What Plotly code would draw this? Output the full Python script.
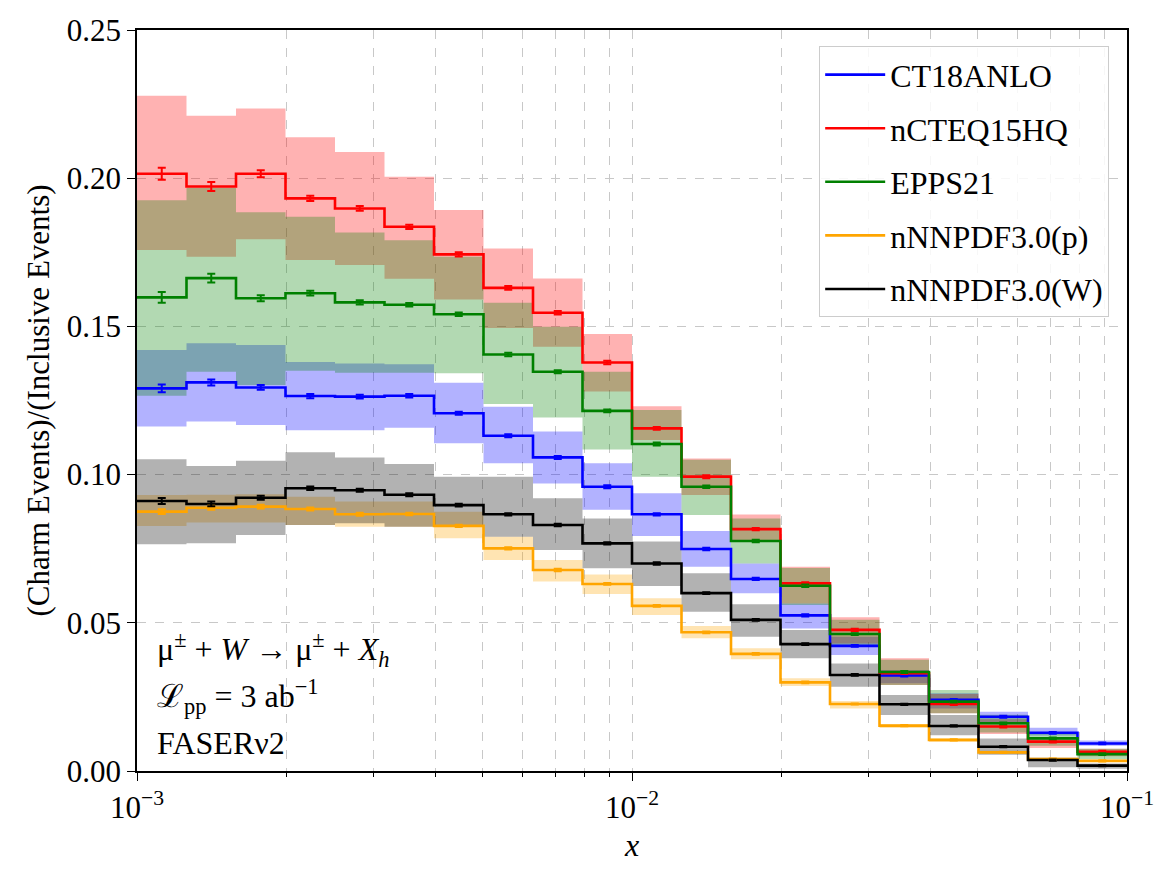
import numpy as np
import plotly.graph_objects as go

# bin edges: 10 log bins per decade from 1e-3 to 1e-1
edges = [10 ** (-3 + k / 10) for k in range(21)]

series_names = ["CT18ANLO", "nCTEQ15HQ", "EPPS21", "nNNPDF3.0(p)", "nNNPDF3.0(W)"]
series_colors = ["#0000ff", "#ff0000", "#008000", "#ffa500", "#000000"]
band_colors = ["rgba(0,0,255,0.3)", "rgba(255,0,0,0.3)", "rgba(0,128,0,0.3)",
               "rgba(255,165,0,0.3)", "rgba(0,0,0,0.3)"]

ct18_c = [0.1291, 0.1311, 0.1294, 0.1265, 0.1263, 0.1266, 0.1207, 0.1131, 0.1058, 0.0959,
          0.0866, 0.0749, 0.0648, 0.0525, 0.0422, 0.0322, 0.0240, 0.0183, 0.0129, 0.0093]
ct18_hi = [0.1420, 0.1443, 0.1437, 0.1380, 0.1375, 0.1372, 0.1310, 0.1229, 0.1145, 0.1038,
           0.0937, 0.0810, 0.0700, 0.0565, 0.0453, 0.0341, 0.0262, 0.0200, 0.0146, 0.0103]
ct18_lo = [0.1162, 0.1179, 0.1167, 0.1150, 0.1150, 0.1158, 0.1106, 0.1038, 0.0970, 0.0881,
           0.0793, 0.0689, 0.0600, 0.0481, 0.0391, 0.0296, 0.0211, 0.0160, 0.0120, 0.0085]
ct18_err = [0.0013, 0.0010, 0.0008, 0.0007, 0.0006, 0.0006, 0.0005, 0.0005, 0.0005, 0.0005,
            0.0004, 0.0004, 0.0004, 0.0004, 0.0003, 0.0003, 0.0003, 0.0003, 0.0003, 0.0003]

ncteq_c = [0.2015, 0.1972, 0.2015, 0.1932, 0.1898, 0.1836, 0.1743, 0.1630, 0.1546, 0.1378,
           0.1156, 0.0993, 0.0816, 0.0633, 0.0476, 0.0330, 0.0226, 0.0150, 0.0099, 0.0065]
ncteq_hi = [0.2278, 0.2211, 0.2235, 0.2138, 0.2088, 0.2005, 0.1893, 0.1763, 0.1662, 0.1474,
            0.1231, 0.1054, 0.0865, 0.0689, 0.0519, 0.0380, 0.0260, 0.0175, 0.0112, 0.0075]
ncteq_lo = [0.1758, 0.1735, 0.1794, 0.1724, 0.1707, 0.1661, 0.1591, 0.1495, 0.1431, 0.1280,
            0.1117, 0.0931, 0.0779, 0.0565, 0.0430, 0.0290, 0.0195, 0.0125, 0.0078, 0.0050]
ncteq_err = [0.0020, 0.0015, 0.0012, 0.0009, 0.0008, 0.0007, 0.0007, 0.0006, 0.0006, 0.0006,
             0.0005, 0.0005, 0.0004, 0.0004, 0.0004, 0.0003, 0.0003, 0.0003, 0.0003, 0.0003]

epps_c = [0.1598, 0.1663, 0.1595, 0.1612, 0.1581, 0.1573, 0.1541, 0.1405, 0.1347, 0.1215,
          0.1103, 0.0959, 0.0776, 0.0625, 0.0462, 0.0334, 0.0234, 0.0161, 0.0110, 0.0057]
epps_hi = [0.1926, 0.1968, 0.1885, 0.1870, 0.1817, 0.1791, 0.1735, 0.1580, 0.1499, 0.1347,
           0.1218, 0.1050, 0.0852, 0.0685, 0.0510, 0.0375, 0.0273, 0.0190, 0.0130, 0.0075]
epps_lo = [0.1266, 0.1347, 0.1302, 0.1350, 0.1344, 0.1344, 0.1342, 0.1238, 0.1193, 0.1085,
           0.0993, 0.0864, 0.0700, 0.0560, 0.0420, 0.0290, 0.0195, 0.0130, 0.0085, 0.0040]
epps_err = [0.0018, 0.0015, 0.0010, 0.0008, 0.0007, 0.0006, 0.0006, 0.0006, 0.0005, 0.0005,
            0.0005, 0.0004, 0.0004, 0.0004, 0.0003, 0.0003, 0.0003, 0.0003, 0.0003, 0.0003]

nnpdfp_c = [0.0875, 0.0888, 0.0892, 0.0884, 0.0866, 0.0867, 0.0827, 0.0751, 0.0678, 0.0631,
            0.0557, 0.0468, 0.0395, 0.0299, 0.0226, 0.0153, 0.0105, 0.0063, 0.0040, 0.0034]
nnpdfp_hi = [0.0931, 0.0932, 0.0934, 0.0925, 0.0909, 0.0909, 0.0875, 0.0790, 0.0712, 0.0663,
             0.0583, 0.0489, 0.0414, 0.0313, 0.0236, 0.0158, 0.0110, 0.0068, 0.0045, 0.0038]
nnpdfp_lo = [0.0827, 0.0838, 0.0838, 0.0830, 0.0824, 0.0824, 0.0785, 0.0712, 0.0639, 0.0597,
             0.0526, 0.0448, 0.0377, 0.0287, 0.0211, 0.0145, 0.0098, 0.0058, 0.0036, 0.0030]
nnpdfp_err = [0.0008, 0.0007, 0.0006, 0.0005, 0.0005, 0.0004, 0.0004, 0.0004, 0.0004, 0.0003,
              0.0003, 0.0003, 0.0003, 0.0003, 0.0002, 0.0002, 0.0002, 0.0002, 0.0002, 0.0002]

nnpdfw_c = [0.0911, 0.0901, 0.0922, 0.0954, 0.0947, 0.0932, 0.0897, 0.0866, 0.0830, 0.0768,
            0.0700, 0.0600, 0.0510, 0.0428, 0.0324, 0.0225, 0.0152, 0.0082, 0.0037, 0.0018]
nnpdfw_hi = [0.1052, 0.1029, 0.1047, 0.1075, 0.1058, 0.1036, 0.0993, 0.0993, 0.0920, 0.0852,
             0.0774, 0.0667, 0.0563, 0.0476, 0.0363, 0.0256, 0.0189, 0.0110, 0.0045, 0.0025]
nnpdfw_lo = [0.0765, 0.0768, 0.0796, 0.0830, 0.0836, 0.0824, 0.0830, 0.0790, 0.0746, 0.0684,
             0.0624, 0.0537, 0.0453, 0.0380, 0.0284, 0.0189, 0.0121, 0.0055, 0.0013, 0.0008]
nnpdfw_err = [0.0010, 0.0008, 0.0007, 0.0006, 0.0005, 0.0005, 0.0005, 0.0004, 0.0004, 0.0004,
              0.0004, 0.0003, 0.0003, 0.0003, 0.0003, 0.0002, 0.0002, 0.0002, 0.0002, 0.0002]

centrals = [ct18_c, ncteq_c, epps_c, nnpdfp_c, nnpdfw_c]
uppers = [ct18_hi, ncteq_hi, epps_hi, nnpdfp_hi, nnpdfw_hi]
lowers = [ct18_lo, ncteq_lo, epps_lo, nnpdfp_lo, nnpdfw_lo]
errors = [ct18_err, ncteq_err, epps_err, nnpdfp_err, nnpdfw_err]

FONT = "Liberation Serif"
centers = [np.sqrt(edges[i] * edges[i + 1]) for i in range(20)]
minor_ticks = [m * 10.0 ** d for d in (-3, -2) for m in range(2, 10)]

fig = go.Figure()

# bands
for i in range(5):
    fig.add_trace(go.Scatter(x=edges, y=lowers[i] + [lowers[i][-1]], mode="lines",
                             line=dict(width=0, shape="hv"), showlegend=False,
                             hoverinfo="skip"))
    fig.add_trace(go.Scatter(x=edges, y=uppers[i] + [uppers[i][-1]], mode="lines",
                             line=dict(width=0, shape="hv"), fill="tonexty",
                             fillcolor=band_colors[i], showlegend=False, hoverinfo="skip"))

# central lines
for i in range(5):
    fig.add_trace(go.Scatter(x=edges, y=centrals[i] + [centrals[i][-1]], mode="lines",
                             line=dict(width=2.6, shape="hv", color=series_colors[i]),
                             name=series_names[i], legendgroup=series_names[i]))

# stat error bars
for i in range(5):
    fig.add_trace(go.Scatter(x=centers, y=centrals[i], mode="markers",
                             marker=dict(size=1, color=series_colors[i]),
                             error_y=dict(type="data", array=errors[i], visible=True,
                                          color=series_colors[i], thickness=2, width=4),
                             showlegend=False, hoverinfo="skip"))

fig.update_layout(
    width=1176, height=876,
    margin=dict(l=137, r=49, t=30, b=105),
    plot_bgcolor="white", paper_bgcolor="white",
    font=dict(family=FONT, size=31, color="black"),
    legend=dict(x=0.982, y=0.978, xanchor="right", yanchor="top",
                bgcolor="rgba(255,255,255,0.85)", bordercolor="#cccccc", borderwidth=1,
                font=dict(family=FONT, size=32), tracegroupgap=9, itemwidth=60),
    showlegend=True,
)

fig.update_xaxes(
    type="log", range=[-3, -1],
    tickvals=[1e-3, 1e-2, 1e-1],
    ticktext=["10<sup>−3</sup>", "10<sup>−2</sup>", "10<sup>−1</sup>"],
    tickfont=dict(family=FONT, size=31),
    ticks="outside", ticklen=8, tickwidth=1.2, tickcolor="black",
    showline=True, linecolor="black", linewidth=1.5, mirror=True,
    showgrid=True, gridcolor="#c8c8c8", griddash="dash", gridwidth=1,
    minor=dict(tickvals=minor_ticks, ticks="outside", ticklen=4, tickcolor="black",
               showgrid=True, gridcolor="#c8c8c8", griddash="dash", gridwidth=1),
    title=dict(text="<i>x</i>", font=dict(family=FONT, size=32), standoff=10),
    zeroline=False,
)
fig.update_yaxes(
    range=[0, 0.25], tickvals=[0, 0.05, 0.10, 0.15, 0.20, 0.25], tickformat=".2f",
    tickfont=dict(family=FONT, size=31),
    ticks="outside", ticklen=8, tickwidth=1.2, tickcolor="black",
    showline=True, linecolor="black", linewidth=1.5, mirror=True,
    showgrid=True, gridcolor="#c8c8c8", griddash="dash", gridwidth=1,
    title=dict(text="(Charm Events)/(Inclusive Events)", font=dict(family=FONT, size=31),
               standoff=8),
    zeroline=False,
)

ann_lines = [
    ("μ<sup>±</sup> + <i>W</i> → μ<sup>±</sup> + <i>X<sub>h</sub></i>", 0.164),
    ("ℒ<sub>pp</sub> = 3 ab<sup>−1</sup>", 0.100),
    ("FASERν2", 0.038),
]
for txt, yy in ann_lines:
    fig.add_annotation(text=txt, xref="paper", yref="paper", x=0.018, y=yy,
                       xanchor="left", yanchor="middle", showarrow=False,
                       font=dict(family=FONT, size=32, color="black"))

fig.write_html("out.html")
